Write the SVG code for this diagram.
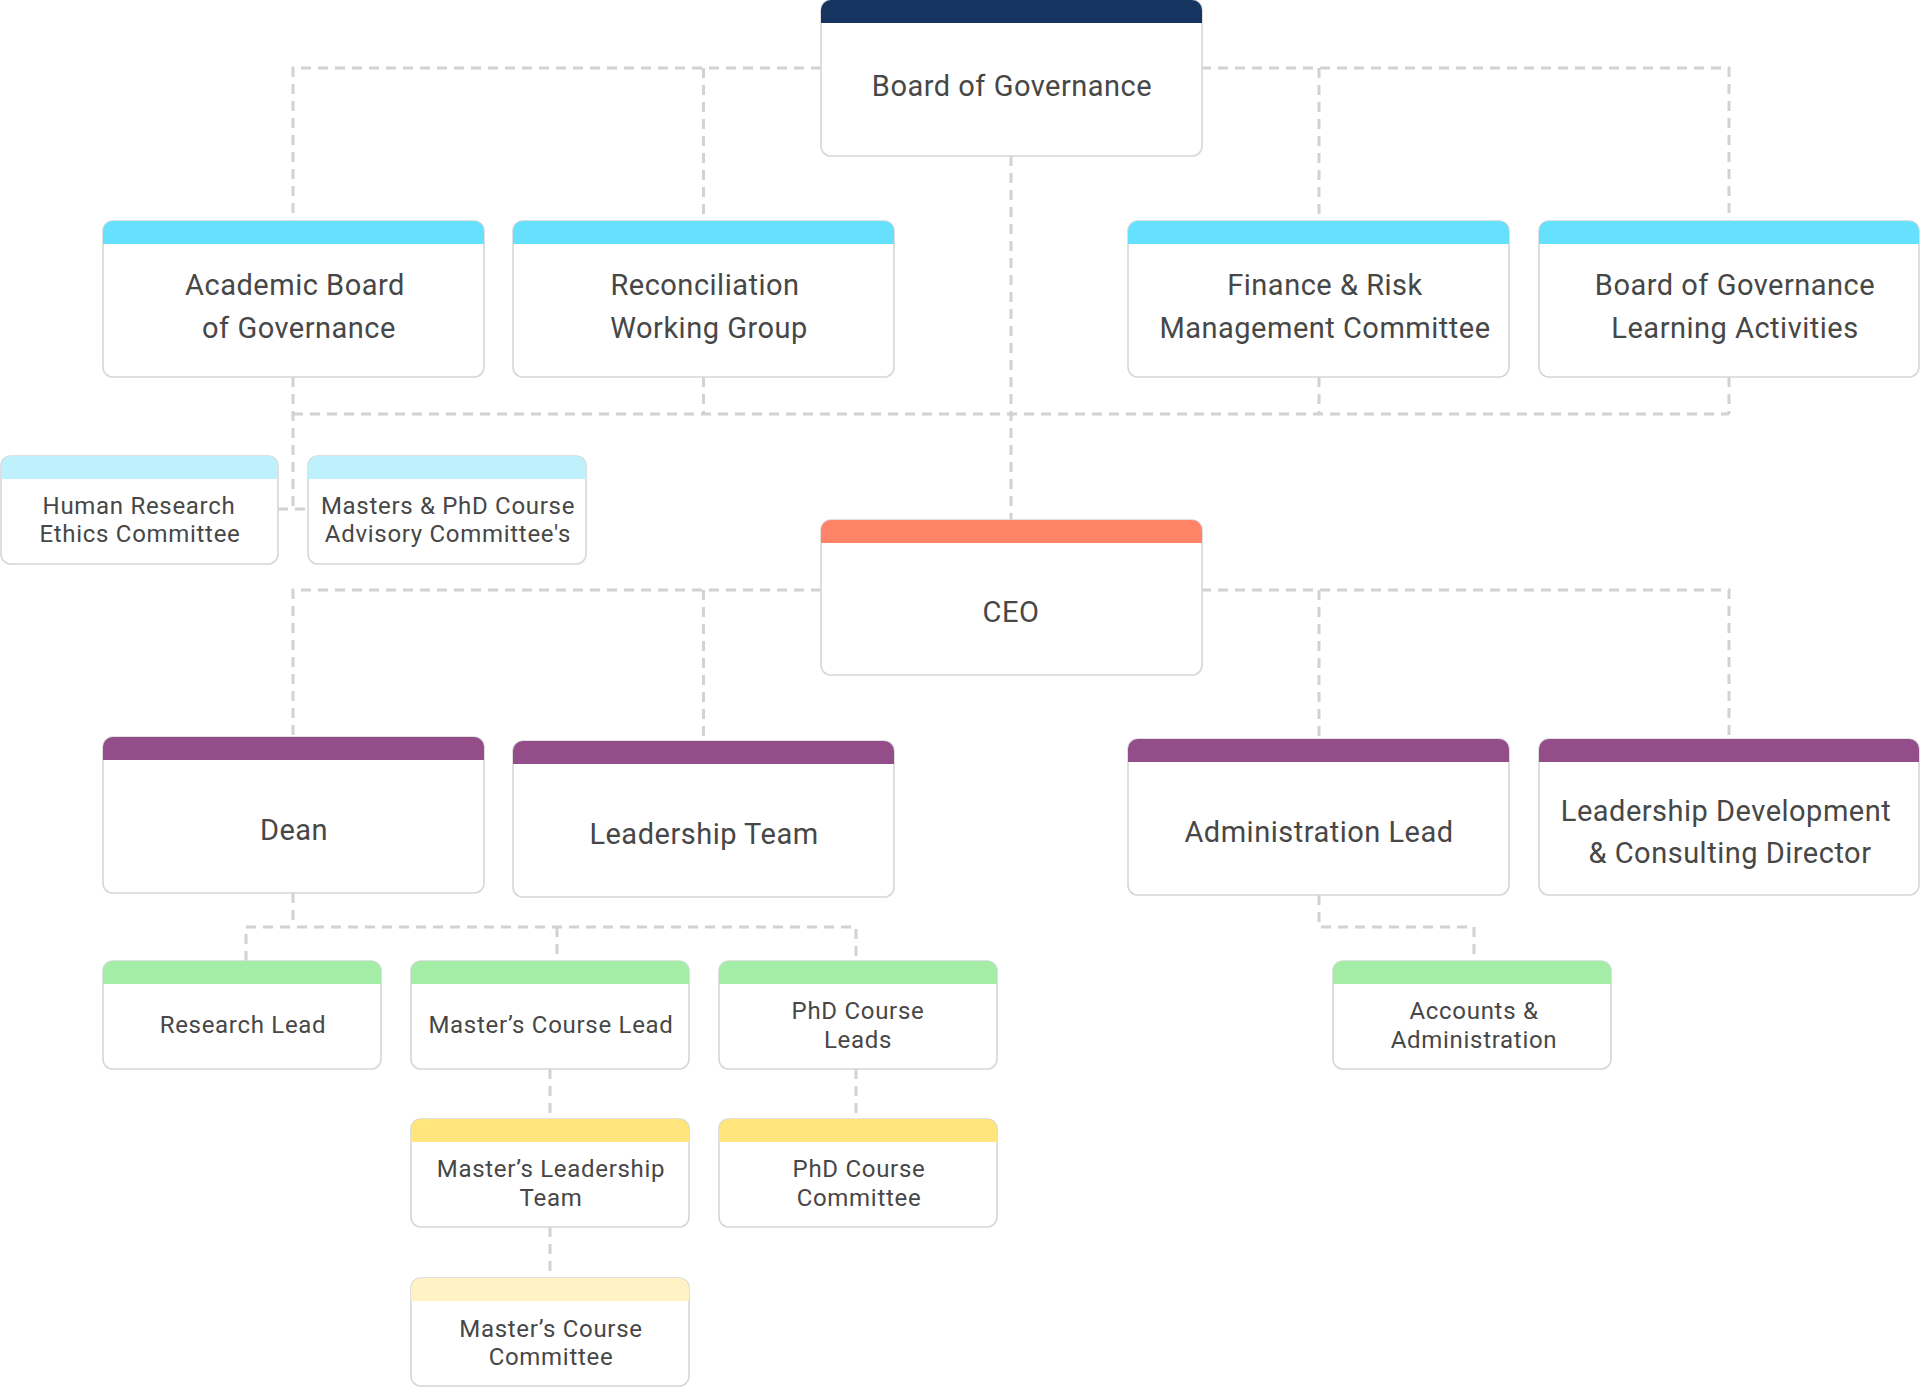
<svg xmlns="http://www.w3.org/2000/svg" width="1920" height="1388" viewBox="0 0 1920 1388">
<style>
.bg{fill:#ffffff}
.body{fill:#ffffff;stroke:#d6d6d6;stroke-width:1.6}
.navy{fill:#15345f}
.cyan{fill:#66e1fd}
.lcyan{fill:#bff1fc}
.coral{fill:#ff8366}
.purple{fill:#934e8a}
.green{fill:#a4eda7}
.yellow{fill:#ffe57b}
.lyellow{fill:#fff3c6}
.conn{fill:none;stroke:#d2d2d2;stroke-width:3;stroke-dasharray:10 7}
text{font-family:Roboto,"Liberation Sans",sans-serif;fill:#474747;text-anchor:middle}
.big{font-size:29px;letter-spacing:0.5px}
.sm{font-size:24px;letter-spacing:0.7px}
</style>
<rect class="bg" x="0" y="0" width="1920" height="1388"/>
<g id="connectors">
<path class="conn" d="M821 68H293V221M703.5 68V221M1201 68H1729V221M1319 68V221"/>
<path class="conn" d="M1011 156V520"/>
<path class="conn" d="M293 377V509M703.5 377V414M1319 377V414M1729 377V414M293 414H1729"/>
<path class="conn" d="M278 509H308"/>
<path class="conn" d="M821 590H293V737M703.5 590V741M1201 590H1729V739M1319 590V739"/>
<path class="conn" d="M293 893V927M246 961V927H856V961M557 927V961"/>
<path class="conn" d="M550 1069V1119M856 1069V1119M550 1227V1278"/>
<path class="conn" d="M1319 895V927H1474V961"/>
</g>
<g id="board">
<rect class="body" x="821" y="0" width="381" height="156" rx="10"/>
<path class="navy" d="M821 23V10A10 10 0 0 1 831 0H1192A10 10 0 0 1 1202 10V23Z"/>
<text class="big" x="1012" y="96">Board of Governance</text>
</g>
<g id="academic">
<rect class="body" x="103" y="221" width="381" height="156" rx="10"/>
<path class="cyan" d="M103 244V231A10 10 0 0 1 113 221H474A10 10 0 0 1 484 231V244Z"/>
<text class="big" x="295" y="295">Academic Board</text>
<text class="big" x="299" y="338">of Governance</text>
</g>
<g id="reconciliation">
<rect class="body" x="513" y="221" width="381" height="156" rx="10"/>
<path class="cyan" d="M513 244V231A10 10 0 0 1 523 221H884A10 10 0 0 1 894 231V244Z"/>
<text class="big" x="705" y="295">Reconciliation</text>
<text class="big" x="709" y="338">Working Group</text>
</g>
<g id="finance">
<rect class="body" x="1128" y="221" width="381" height="156" rx="10"/>
<path class="cyan" d="M1128 244V231A10 10 0 0 1 1138 221H1499A10 10 0 0 1 1509 231V244Z"/>
<text class="big" x="1325" y="295">Finance &amp; Risk</text>
<text class="big" x="1325" y="338">Management Committee</text>
</g>
<g id="learning">
<rect class="body" x="1539" y="221" width="380" height="156" rx="10"/>
<path class="cyan" d="M1539 244V231A10 10 0 0 1 1549 221H1909A10 10 0 0 1 1919 231V244Z"/>
<text class="big" x="1735" y="295">Board of Governance</text>
<text class="big" x="1735" y="338">Learning Activities</text>
</g>
<g id="ethics">
<rect class="body" x="1" y="456" width="277" height="108" rx="10"/>
<path class="lcyan" d="M1 479V466A10 10 0 0 1 11 456H268A10 10 0 0 1 278 466V479Z"/>
<text class="sm" x="139" y="514">Human Research</text>
<text class="sm" x="140" y="542">Ethics Committee</text>
</g>
<g id="advisory">
<rect class="body" x="308" y="456" width="278" height="108" rx="10"/>
<path class="lcyan" d="M308 479V466A10 10 0 0 1 318 456H576A10 10 0 0 1 586 466V479Z"/>
<text class="sm" x="448" y="514">Masters &amp; PhD Course</text>
<text class="sm" x="448" y="542">Advisory Committee's</text>
</g>
<g id="ceo">
<rect class="body" x="821" y="520" width="381" height="155" rx="10"/>
<path class="coral" d="M821 543V530A10 10 0 0 1 831 520H1192A10 10 0 0 1 1202 530V543Z"/>
<text class="big" x="1011" y="622">CEO</text>
</g>
<g id="dean">
<rect class="body" x="103" y="737" width="381" height="156" rx="10"/>
<path class="purple" d="M103 760V747A10 10 0 0 1 113 737H474A10 10 0 0 1 484 747V760Z"/>
<text class="big" x="294" y="840">Dean</text>
</g>
<g id="leadership-team">
<rect class="body" x="513" y="741" width="381" height="156" rx="10"/>
<path class="purple" d="M513 764V751A10 10 0 0 1 523 741H884A10 10 0 0 1 894 751V764Z"/>
<text class="big" x="704" y="844">Leadership Team</text>
</g>
<g id="administration-lead">
<rect class="body" x="1128" y="739" width="381" height="156" rx="10"/>
<path class="purple" d="M1128 762V749A10 10 0 0 1 1138 739H1499A10 10 0 0 1 1509 749V762Z"/>
<text class="big" x="1319" y="842">Administration Lead</text>
</g>
<g id="leadership-development">
<rect class="body" x="1539" y="739" width="380" height="156" rx="10"/>
<path class="purple" d="M1539 762V749A10 10 0 0 1 1549 739H1909A10 10 0 0 1 1919 749V762Z"/>
<text class="big" x="1726" y="821">Leadership Development</text>
<text class="big" x="1730" y="863">&amp; Consulting Director</text>
</g>
<g id="research-lead">
<rect class="body" x="103" y="961" width="278" height="108" rx="10"/>
<path class="green" d="M103 984V971A10 10 0 0 1 113 961H371A10 10 0 0 1 381 971V984Z"/>
<text class="sm" x="243" y="1033">Research Lead</text>
</g>
<g id="masters-course-lead">
<rect class="body" x="411" y="961" width="278" height="108" rx="10"/>
<path class="green" d="M411 984V971A10 10 0 0 1 421 961H679A10 10 0 0 1 689 971V984Z"/>
<text class="sm" x="551" y="1033">Master’s Course Lead</text>
</g>
<g id="phd-course-leads">
<rect class="body" x="719" y="961" width="278" height="108" rx="10"/>
<path class="green" d="M719 984V971A10 10 0 0 1 729 961H987A10 10 0 0 1 997 971V984Z"/>
<text class="sm" x="858" y="1019">PhD Course</text>
<text class="sm" x="858" y="1048">Leads</text>
</g>
<g id="accounts">
<rect class="body" x="1333" y="961" width="278" height="108" rx="10"/>
<path class="green" d="M1333 984V971A10 10 0 0 1 1343 961H1601A10 10 0 0 1 1611 971V984Z"/>
<text class="sm" x="1474" y="1019">Accounts &amp;</text>
<text class="sm" x="1474" y="1048">Administration</text>
</g>
<g id="masters-leadership-team">
<rect class="body" x="411" y="1119" width="278" height="108" rx="10"/>
<path class="yellow" d="M411 1142V1129A10 10 0 0 1 421 1119H679A10 10 0 0 1 689 1129V1142Z"/>
<text class="sm" x="551" y="1177">Master’s Leadership</text>
<text class="sm" x="551" y="1206">Team</text>
</g>
<g id="phd-course-committee">
<rect class="body" x="719" y="1119" width="278" height="108" rx="10"/>
<path class="yellow" d="M719 1142V1129A10 10 0 0 1 729 1119H987A10 10 0 0 1 997 1129V1142Z"/>
<text class="sm" x="859" y="1177">PhD Course</text>
<text class="sm" x="859" y="1206">Committee</text>
</g>
<g id="masters-course-committee">
<rect class="body" x="411" y="1278" width="278" height="108" rx="10"/>
<path class="lyellow" d="M411 1301V1288A10 10 0 0 1 421 1278H679A10 10 0 0 1 689 1288V1301Z"/>
<text class="sm" x="551" y="1337">Master’s Course</text>
<text class="sm" x="551" y="1365">Committee</text>
</g>
</svg>
